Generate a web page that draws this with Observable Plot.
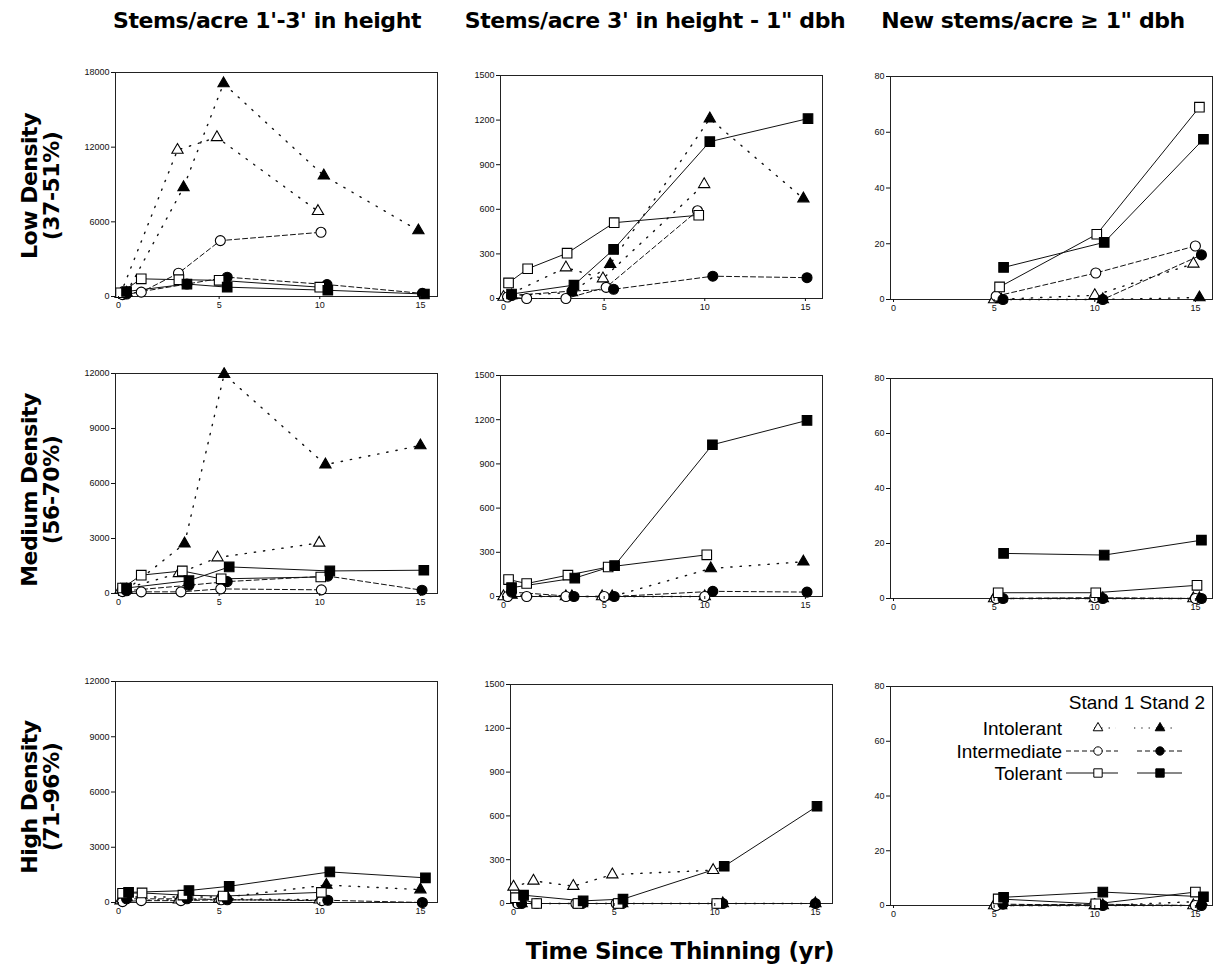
<!DOCTYPE html>
<html><head><meta charset="utf-8">
<script src="https://cdn.jsdelivr.net/npm/d3@7"></script>
<script src="https://cdn.jsdelivr.net/npm/@observablehq/plot@0.6"></script>
<style>
body{margin:0;background:#fff;}
#wrap{position:relative;width:1225px;height:973px;background:#fff;overflow:hidden;font-family:"Liberation Sans",Arial,sans-serif;}
.hdr{position:absolute;font-family:"DejaVu Sans",sans-serif;font-weight:bold;font-size:22px;letter-spacing:-0.4px;white-space:nowrap;transform:translateX(-50%);color:#000;}
.row{position:absolute;font-family:"DejaVu Sans",sans-serif;font-weight:bold;font-size:22px;line-height:22px;text-align:center;white-space:nowrap;transform:translate(-50%,-50%) rotate(-90deg);color:#000;letter-spacing:-0.5px;}
.pl{position:absolute;}
</style></head>
<body><div id="wrap"></div>
<script>
// ---- labels ----
const columnTitles = ["Stems/acre 1'-3' in height", "Stems/acre 3' in height - 1\" dbh", "New stems/acre \u2265 1\" dbh"];
const rowTitles = [["Low Density","(37-51%)"],["Medium Density","(56-70%)"],["High Density","(71-96%)"]];
const xTitle = "Time Since Thinning (yr)";
const seriesKeys = ["IT1","IT2","IM1","IM2","TO1","TO2"];
const groupNames = ["Intolerant","Intermediate","Tolerant"];
const standNames = ["Stand 1","Stand 2"];
const xTicks = [0,5,10,15];
const yTicksCol1Top = [0,6000,12000,18000];
const yTicksCol1 = [0,3000,6000,9000,12000];
const yTicksCol2 = [0,300,600,900,1200,1500];
const yTicksCol3 = [0,20,40,60,80];

// ---- data: [series, years since thinning, stems/acre] ----
const lowSmall = [
 ["IT1",0.1,200],["IT1",2.93,11770],["IT1",4.89,12790],["IT1",9.91,6850],
 ["IT2",0.4,300],["IT2",3.23,8770],["IT2",5.22,17120],["IT2",10.2,9710],["IT2",14.9,5300],
 ["IM1",0.2,150],["IM1",1.13,350],["IM1",2.98,1870],["IM1",5.06,4490],["IM1",10.06,5160],
 ["IM2",0.4,200],["IM2",3.4,1000],["IM2",5.4,1550],["IM2",10.36,960],["IM2",15.1,250],
 ["TO1",0.1,300],["TO1",1.13,1420],["TO1",3.0,1350],["TO1",5.0,1300],["TO1",10.0,750],
 ["TO2",0.4,400],["TO2",3.4,1000],["TO2",5.4,750],["TO2",10.4,500],["TO2",15.2,200]
];
const lowMid = [
 ["IT1",0.0,10],["IT1",3.1,208],["IT1",4.94,134],["IT1",9.97,768],
 ["IT2",0.4,20],["IT2",3.4,40],["IT2",5.3,230],["IT2",10.25,1210],["IT2",14.9,672],
 ["IM1",0.2,10],["IM1",1.15,0],["IM1",3.1,0],["IM1",5.1,75],["IM1",9.64,590],
 ["IM2",0.4,20],["IM2",3.4,50],["IM2",5.47,62],["IM2",10.4,150],["IM2",15.08,140],
 ["TO1",0.25,105],["TO1",1.2,200],["TO1",3.16,305],["TO1",5.5,510],["TO1",9.7,560],
 ["TO2",0.4,30],["TO2",3.5,90],["TO2",5.47,330],["TO2",10.25,1055],["TO2",15.13,1210]
];
const lowNew = [
 ["IT1",5.0,0],["IT1",10.0,1.5],["IT1",14.9,12.8],
 ["IT2",5.35,0],["IT2",10.4,0],["IT2",15.2,0.7],
 ["IM1",5.1,1.2],["IM1",10.05,9.5],["IM1",15.0,19.2],
 ["IM2",5.44,0],["IM2",10.4,0],["IM2",15.3,16],
 ["TO1",5.27,4.5],["TO1",10.1,23.4],["TO1",15.2,69],
 ["TO2",5.47,11.5],["TO2",10.47,20.5],["TO2",15.4,57.5]
];
const medSmall = [
 ["IT1",0.1,200],["IT1",3.0,1100],["IT1",4.92,1960],["IT1",9.97,2760],
 ["IT2",0.4,200],["IT2",3.28,2720],["IT2",5.25,11960],["IT2",10.28,7030],["IT2",15.0,8070],
 ["IM1",0.2,100],["IM1",1.13,90],["IM1",3.1,90],["IM1",5.08,250],["IM1",10.08,200],
 ["IM2",0.4,150],["IM2",3.5,450],["IM2",5.4,650],["IM2",10.4,950],["IM2",15.08,180],
 ["TO1",0.2,300],["TO1",1.13,1000],["TO1",3.17,1230],["TO1",5.1,800],["TO1",10.05,900],
 ["TO2",0.4,300],["TO2",3.5,700],["TO2",5.5,1450],["TO2",10.5,1230],["TO2",15.17,1270]
];
const medMid = [
 ["IT1",0.0,0],["IT1",3.1,0],["IT1",4.9,0],["IT1",10.0,0],
 ["IT2",0.4,10],["IT2",3.4,0],["IT2",5.4,0],["IT2",10.3,190],["IT2",14.9,236],
 ["IM1",0.2,0],["IM1",1.15,0],["IM1",3.1,0],["IM1",5.0,0],["IM1",10.0,0],
 ["IM2",0.4,30],["IM2",3.5,0],["IM2",5.5,0],["IM2",10.4,35],["IM2",15.08,30],
 ["TO1",0.25,115],["TO1",1.15,88],["TO1",3.2,145],["TO1",5.2,200],["TO1",10.1,283],
 ["TO2",0.4,60],["TO2",3.54,125],["TO2",5.52,210],["TO2",10.38,1030],["TO2",15.08,1195]
];
const medNew = [
 ["IT1",5.0,0],["IT1",10.0,0],["IT1",14.9,0],
 ["IT2",5.35,0],["IT2",10.4,0],["IT2",15.2,0],
 ["IM1",5.1,0],["IM1",10.0,0.3],["IM1",15.0,0],
 ["IM2",5.44,0],["IM2",10.4,0],["IM2",15.3,0],
 ["TO1",5.2,2.1],["TO1",10.05,2.1],["TO1",15.08,4.8],
 ["TO2",5.47,16.4],["TO2",10.47,15.8],["TO2",15.3,21.2]
];
const highSmall = [
 ["IT1",0.1,100],["IT1",3.0,150],["IT1",5.0,200],["IT1",10.0,150],
 ["IT2",0.4,300],["IT2",3.4,300],["IT2",5.4,300],["IT2",10.33,950],["IT2",15.0,700],
 ["IM1",0.2,50],["IM1",1.13,100],["IM1",3.1,100],["IM1",5.1,150],["IM1",10.1,100],
 ["IM2",0.4,200],["IM2",3.4,200],["IM2",5.4,150],["IM2",10.4,120],["IM2",15.1,0],
 ["TO1",0.2,500],["TO1",1.17,520],["TO1",3.2,400],["TO1",5.2,350],["TO1",10.08,550],
 ["TO2",0.5,550],["TO2",3.5,650],["TO2",5.5,880],["TO2",10.5,1660],["TO2",15.25,1340]
];
const highMid = [
 ["IT1",0.0,114],["IT1",0.99,155],["IT1",2.97,119],["IT1",4.91,198],["IT1",9.92,228],
 ["IT2",0.4,0],["IT2",3.4,0],["IT2",5.4,0],["IT2",10.4,0],["IT2",15.0,0],
 ["IM1",0.2,0],["IM1",1.15,0],["IM1",3.1,0],["IM1",5.1,0],["IM1",10.1,0],
 ["IM2",0.4,0],["IM2",3.4,0],["IM2",5.4,0],["IM2",10.4,0],["IM2",15.0,0],
 ["TO1",0.1,40],["TO1",1.15,0],["TO1",3.2,0],["TO1",5.2,0],["TO1",10.1,0],
 ["TO2",0.5,57],["TO2",3.46,18],["TO2",5.44,30],["TO2",10.47,255],["TO2",15.08,666]
];
const highNew = [
 ["IT1",5.0,0],["IT1",10.0,0],["IT1",14.9,0],
 ["IT2",5.35,0],["IT2",10.4,0],["IT2",15.3,1.5],
 ["IM1",5.1,0],["IM1",10.0,0.5],["IM1",15.0,0],
 ["IM2",5.44,0.5],["IM2",10.4,0],["IM2",15.3,0],
 ["TO1",5.2,2.4],["TO1",10.05,0.6],["TO1",15.0,4.9],
 ["TO2",5.47,3.0],["TO2",10.4,4.9],["TO2",15.4,3.2]
];

// ---- styles ----
const symbolOf = {IT:"triangle", IM:"circle", TO:"square"};
const rOf = {IT:4.2, IM:5, TO:5.4};
const dashOf = {IT:"1.3,8", IM:"5,3", TO:null};

const panels = [
 {data:lowSmall, yMax:18000, yTicks:yTicksCol1Top, left:115, top:72, bottom:296},
 {data:lowMid, yMax:1500, yTicks:yTicksCol2, left:500, top:75, bottom:298},
 {data:lowNew, yMax:80, yTicks:yTicksCol3, left:890, top:76, bottom:299},
 {data:medSmall, yMax:12000, yTicks:yTicksCol1, left:115, top:373, bottom:593},
 {data:medMid, yMax:1500, yTicks:yTicksCol2, left:500, top:375, bottom:596},
 {data:medNew, yMax:80, yTicks:yTicksCol3, left:890, top:378, bottom:598},
 {data:highSmall, yMax:12000, yTicks:yTicksCol1, left:115, top:681, bottom:902},
 {data:highMid, yMax:1500, yTicks:yTicksCol2, left:510, top:684, bottom:903},
 {data:highNew, yMax:80, yTicks:yTicksCol3, left:890, top:686, bottom:905}
];

const wrap = document.getElementById("wrap");
const ML=40, MR=4, MT=6, MB=22, PW=322;

for (const p of panels) {
  const marks = [Plot.frame({stroke:"#222", strokeWidth:1})];
  for (const k of seriesKeys) {
    const g = k.slice(0,2);
    marks.push(Plot.line(p.data.filter(d => d[0]===k), {x:d=>d[1], y:d=>d[2], stroke:"#111", strokeWidth: g==="IT"?1.4:1, strokeDasharray: dashOf[g]}));
  }
  for (const k of seriesKeys) {
    const g = k.slice(0,2), filled = k[2]==="2";
    marks.push(Plot.dot(p.data.filter(d => d[0]===k), {x:d=>d[1], y:d=>d[2], symbol:symbolOf[g], r:rOf[g], fill: filled?"#000":"#fff", stroke:"#000", strokeWidth:1.1}));
  }
  marks.push(Plot.axisX(xTicks, {tickSize:3, tickPadding:2, fontSize:9, label:null}));
  marks.push(Plot.axisY(p.yTicks, {tickSize:4, tickPadding:2, fontSize:9, label:null, tickFormat:d=>String(d)}));
  const h = p.bottom - p.top;
  const chart = Plot.plot({
    width: PW+ML+MR, height: h+MT+MB,
    marginLeft:ML, marginRight:MR, marginTop:MT, marginBottom:MB,
    style:{fontFamily:"'Liberation Sans', Arial, sans-serif", fontSize:"9px", background:"transparent", color:"#111"},
    x:{domain:[-0.15,15.85], label:null},
    y:{domain:[0,p.yMax], label:null},
    marks
  });
  chart.classList.add("pl");
  chart.style.left = (p.left-ML)+"px";
  chart.style.top = (p.top-MT)+"px";
  wrap.appendChild(chart);
}

// column headers
const colCenters = [267, 655, 1033];
columnTitles.forEach((t,i)=>{
  const d=document.createElement("div"); d.className="hdr"; d.textContent=t;
  d.style.left=colCenters[i]+"px"; d.style.top="8px"; wrap.appendChild(d);
});
// row labels
const rowCenters = [186, 490, 797];
rowTitles.forEach((t,i)=>{
  const d=document.createElement("div"); d.className="row";
  d.innerHTML=t[0]+"<br>"+t[1];
  d.style.left="41px"; d.style.top=rowCenters[i]+"px"; wrap.appendChild(d);
});
// x title
const xt=document.createElement("div"); xt.className="hdr"; xt.textContent=xTitle;
xt.style.left="680px"; xt.style.top="938px"; xt.style.fontSize="23px"; wrap.appendChild(xt);

// legend
const ns="http://www.w3.org/2000/svg";
const L0=900, T0=684;
const lg=document.createElementNS(ns,"svg");
lg.setAttribute("width","315"); lg.setAttribute("height","115");
lg.style.position="absolute"; lg.style.left=L0+"px"; lg.style.top=T0+"px"; lg.style.overflow="visible";
function el(tag, attrs){const e=document.createElementNS(ns,tag); for(const a in attrs) e.setAttribute(a,attrs[a]); lg.appendChild(e); return e;}
const tStand = el("text",{x:1205-L0,y:709-T0,"text-anchor":"end","font-size":"19px","font-family":"'Liberation Sans',Arial,sans-serif"});
tStand.textContent = standNames[0]+" "+standNames[1];
const rowsY=[728,751,773];
const groups=["IT","IM","TO"];
groupNames.forEach((nm,i)=>{
  const y=rowsY[i]-T0;
  const t=el("text",{x:1062-L0,y:y+6.5,"text-anchor":"end","font-size":"19px","font-family":"'Liberation Sans',Arial,sans-serif"});
  t.textContent=nm;
  const g=groups[i];
  const segs = g==="IT" ? [[1094,1116],[1134,1174]] : [[1066,1118],[1137,1182]];
  const cx=[1098,1160];
  [0,1].forEach(s=>{
    const ln=el("line",{x1:segs[s][0]-L0,x2:segs[s][1]-L0,y1:y,y2:y,stroke:"#111","stroke-width":1});
    if(dashOf[g]) ln.setAttribute("stroke-dasharray",g==="IT"?"1.3,6":dashOf[g]);
    const sym=d3.symbol(g==="IT"?d3.symbolTriangle:g==="IM"?d3.symbolCircle:d3.symbolSquare, g==="IT"?40:g==="IM"?55:70)();
    el("path",{d:sym,transform:`translate(${cx[s]-L0},${y})`,fill:s?"#000":"#fff",stroke:"#000","stroke-width":1});
  });
});
wrap.appendChild(lg);
</script></body></html>
